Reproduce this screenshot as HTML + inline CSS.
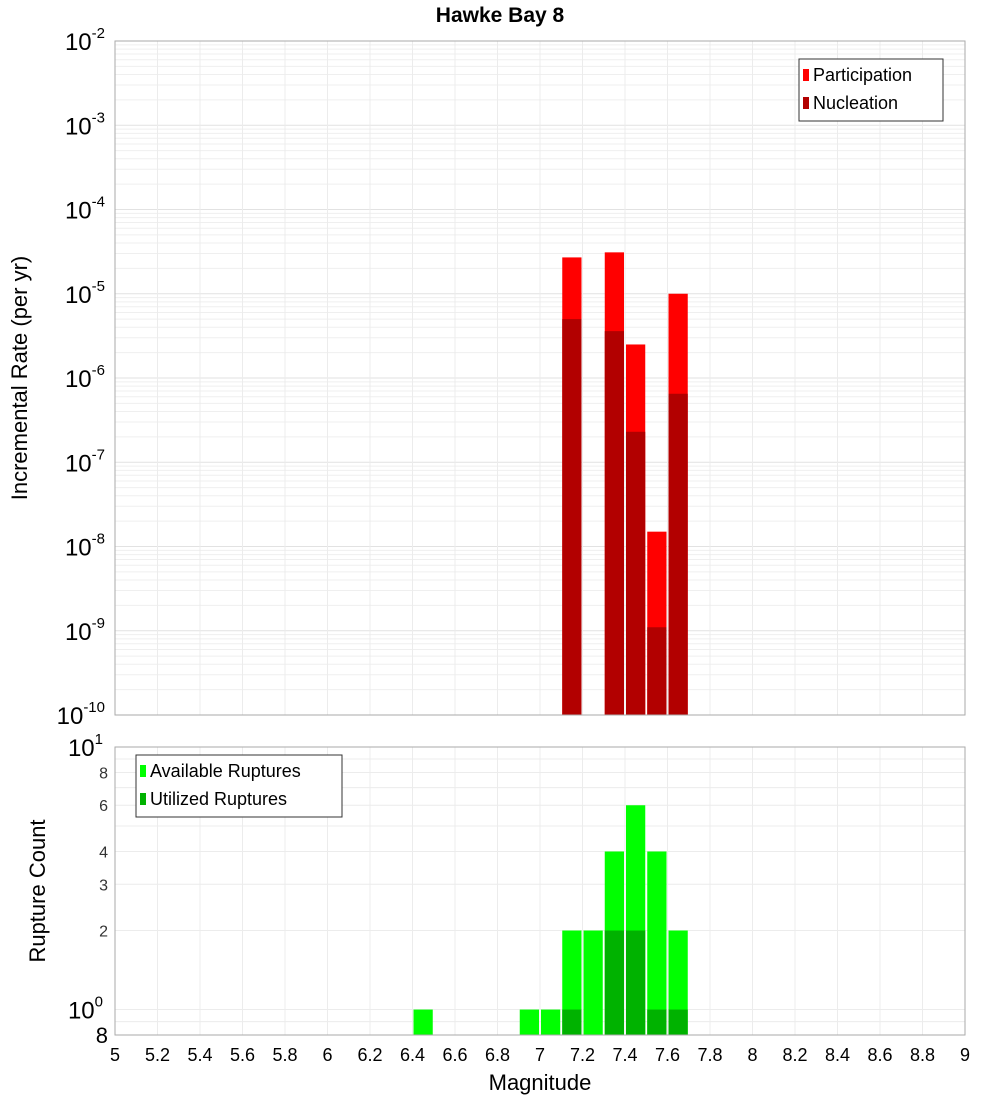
<!DOCTYPE html>
<html><head><meta charset="utf-8"><style>
body{margin:0;background:#fff;width:1000px;height:1100px;overflow:hidden}
text{font-family:"Liberation Sans","DejaVu Sans",sans-serif}
</style></head><body>
<svg id="c" width="1000" height="1100" xmlns="http://www.w3.org/2000/svg"></svg>
<script>
const magBins=[7.15,7.35,7.45,7.55,7.65];
const participation=[2.7e-5,3.1e-5,2.5e-6,1.5e-8,1.0e-5];
const nucleation=[5.0e-6,3.6e-6,2.3e-7,1.1e-9,6.5e-7];
const countBins=[6.45,6.95,7.05,7.15,7.25,7.35,7.45,7.55,7.65];
const available=[1,1,1,2,2,4,6,4,2];
const utilized=[0,0,0,1,0,2,2,1,1];
const xTicks=[5,5.2,5.4,5.6,5.8,6,6.2,6.4,6.6,6.8,7,7.2,7.4,7.6,7.8,8,8.2,8.4,8.6,8.8,9];
const topExps=[-2,-3,-4,-5,-6,-7,-8,-9,-10];
const botTicks=[8,6,4,3,2];

const svg=document.getElementById('c');const NS='http://www.w3.org/2000/svg';
function el(t,a,p){const e=document.createElementNS(NS,t);for(const k in a)e.setAttribute(k,a[k]);(p||svg).appendChild(e);return e;}
const X0=115,X1=965;
const x=v=>X0+(v-5)/4*(X1-X0);
const T0=41,T1=715;
const yT=v=>T0+(-2-Math.log10(v))/8*(T1-T0);
const B0=747,B1=1035;
const yB=v=>B0+(1-Math.log10(v))/(1-Math.log10(0.8))*(B1-B0);

// title
let t=el('text',{x:500,y:22,'text-anchor':'middle','font-size':21,'font-weight':'bold'});t.textContent='Hawke Bay 8';


// top grid
const gt=el('g',{});
for(let e=-10;e<-2;e++)for(let m=1;m<10;m++){const yy=yT(m*Math.pow(10,e));el('line',{x1:X0,x2:X1,y1:yy,y2:yy,stroke:m==1?'#e2e2e2':'#efefef','stroke-width':1},gt);}
xTicks.forEach(v=>el('line',{x1:x(v),x2:x(v),y1:T0,y2:T1,stroke:'#ececec'},gt));
// bottom grid
const gb=el('g',{});
[0.9,1,2,3,4,5,6,7,8,9].forEach(v=>el('line',{x1:X0,x2:X1,y1:yB(v),y2:yB(v),stroke:'#ececec'},gb));
xTicks.forEach(v=>el('line',{x1:x(v),x2:x(v),y1:B0,y2:B1,stroke:'#ececec'},gb));

// top bars
const bw=x(5.1)-x(5)-2;
magBins.forEach((m,i)=>{
 let r=el('rect',{x:x(m)-bw/2,y:yT(participation[i]),width:bw,height:T1-yT(participation[i]),fill:'#ff0000'});
 
 r=el('rect',{x:x(m)-bw/2,y:yT(nucleation[i]),width:bw,height:T1-yT(nucleation[i]),fill:'#b20000'});
 
});
countBins.forEach((m,i)=>{
 let r=el('rect',{x:x(m)-bw/2,y:yB(available[i]),width:bw,height:B1-yB(available[i]),fill:'#00ff00'});
 
 if(utilized[i]>0){r=el('rect',{x:x(m)-bw/2,y:yB(utilized[i]),width:bw,height:B1-yB(utilized[i]),fill:'#00b200'});
 }
});
// frames
let f=el('rect',{x:X0,y:T0,width:X1-X0,height:T1-T0,fill:'none',stroke:'#aaa'});
f=el('rect',{x:X0,y:B0,width:X1-X0,height:B1-B0,fill:'none',stroke:'#aaa'});

// top y labels
topExps.forEach(e=>{const yy=yT(Math.pow(10,e));
 const g=el('text',{x:105,y:yy+9,'text-anchor':'end','font-size':24});
 
 g.innerHTML='10<tspan dy="-12" font-size="15">'+e+'</tspan>';});
// bottom y labels
[[10,'1'],[1,'0']].forEach(([v,e])=>{const yy=yB(v);
 const g=el('text',{x:103,y:yy+9,'text-anchor':'end','font-size':24});
 
 g.innerHTML='10<tspan dy="-12" font-size="15">'+e+'</tspan>';});
botTicks.forEach(v=>{const g=el('text',{x:108,y:yB(v)+6,'text-anchor':'end','font-size':16,fill:'#333'});g.textContent=v;
 });
t=el('text',{x:108,y:yB(0.8)+8,'text-anchor':'end','font-size':22});t.textContent='8';

// x labels
xTicks.forEach(v=>{const g=el('text',{x:x(v),y:1061,'text-anchor':'middle','font-size':18});g.textContent=String(+v.toFixed(1));
 });
t=el('text',{x:540,y:1090,'text-anchor':'middle','font-size':22});t.textContent='Magnitude';

t=el('text',{x:0,y:0,'text-anchor':'middle','font-size':22,transform:'translate(27,378) rotate(-90)'});t.textContent='Incremental Rate (per yr)';

t=el('text',{x:0,y:0,'text-anchor':'middle','font-size':22,transform:'translate(45,891) rotate(-90)'});t.textContent='Rupture Count';


// legends
function legend(lx,ly,w,items,name){const g=el('g',{});
 el('rect',{x:lx,y:ly,width:w,height:items.length*28+6,fill:'#fff',stroke:'#333'},g);
 items.forEach(([c,s],i)=>{el('rect',{x:lx+4,y:ly+10+i*28,width:6,height:12,fill:c},g);
  const tt=el('text',{x:lx+14,y:ly+22+i*28,'font-size':18},g);tt.textContent=s;});}
legend(799,59,144,[['#ff0000','Participation'],['#b20000','Nucleation']],'rate-legend');
legend(136,755,206,[['#00ff00','Available Ruptures'],['#00b200','Utilized Ruptures']],'count-legend');
</script>
</body></html>
